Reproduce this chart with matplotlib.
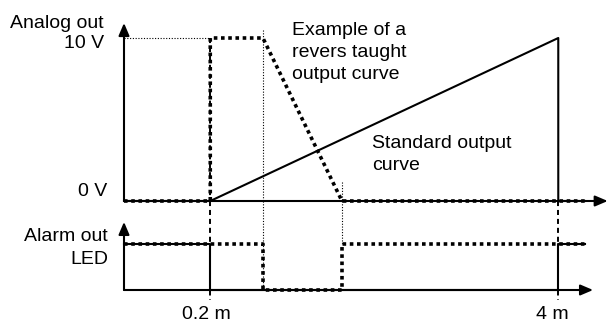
import matplotlib
matplotlib.use("Agg")
import matplotlib.pyplot as plt

plt.rcParams['font.family'] = ['Liberation Sans', 'DejaVu Sans']

# ---- data (schematic x in metres, analog in volts, alarm as state 0/1) ----
x_origin = -0.742
x_end = 4.29
teach_near = 0.2      # 0.2 m
teach_far = 4.0       # 4 m
rev_flat_end = 0.775
rev_zero = 1.638

std_x = [x_origin, teach_near, teach_far, teach_far, x_end]
std_v = [0, 0, 10, 0, 0]

rev_x = [x_origin, teach_near, teach_near, rev_flat_end, rev_zero, x_end]
rev_v = [0, 0, 10, 10, 0, 0]

alarm_std_x = [x_origin, teach_near, teach_near, teach_far, teach_far, x_end]
alarm_std_s = [1, 1, 0, 0, 1, 1]

alarm_rev_x = [x_origin, rev_flat_end, rev_flat_end, rev_zero, rev_zero, x_end]
alarm_rev_s = [1, 1, 0, 0, 1, 1]

x_tick_pos = [teach_near, teach_far]
x_tick_labels = ["0.2 m", "4 m"]

W, H = 611, 322
fig = plt.figure(figsize=(W / 100, H / 100), dpi=100)

def fx(px):
    return px / W

def fy(py):
    return 1 - py / H

# top axes: pixel rows 18..201 ; bottom axes: pixel rows 201..305
ax1 = fig.add_axes([fx(124), fy(201), fx(611 - 124), (201 - 18) / H])
ax2 = fig.add_axes([fx(124), fy(305), fx(611 - 124), (305 - 201) / H])
xl = (x_origin, x_origin + (611 - 124) / 91.58)
ax1.set_xlim(*xl)
ax2.set_xlim(*xl)
ax1.set_ylim(0, 10 + (38 - 18) / 16.3)
ax2.set_ylim(-(305 - 290) / 46, (290 - 201) / 46)
for a in (ax1, ax2):
    a.axis('off')

dotted = (0, (1.0, 1.0))
dashed = (0, (2.6, 2.0))
thin_dot = (0, (1, 1.5))

arrow = dict(arrowstyle='-|>,head_length=0.75,head_width=0.32', color='black', lw=1.5,
             shrinkA=0, shrinkB=0)

# axes arrows
ax1.annotate('', xy=(x_origin, 10.92), xytext=(x_origin, 0), arrowprops=arrow, annotation_clip=False)
ax1.annotate('', xy=(4.54, 0), xytext=(x_origin, 0), arrowprops=arrow, annotation_clip=False)
ax2.annotate('', xy=(x_origin, 1.48), xytext=(x_origin, 0), arrowprops=arrow, annotation_clip=False)
ax2.annotate('', xy=(4.38, 0), xytext=(x_origin, 0), arrowprops=arrow, annotation_clip=False)

# thin guide lines
ytop2 = ax2.get_ylim()[1]
ax1.plot([x_origin, teach_near], [10, 10], color='black', lw=0.8, ls=thin_dot, clip_on=False)
ax1.plot([rev_flat_end, rev_flat_end], [10.5, 0], color='black', lw=0.8, ls=thin_dot, clip_on=False)
ax2.plot([rev_flat_end, rev_flat_end], [ytop2, 0], color='black', lw=0.8, ls=thin_dot, clip_on=False)
ax1.plot([rev_zero, rev_zero], [1.17, 0], color='black', lw=0.8, ls=thin_dot, clip_on=False)
ax2.plot([rev_zero, rev_zero], [ytop2, 1], color='black', lw=0.8, ls=thin_dot, clip_on=False)

# dashed teach markers
ax1.plot([teach_near, teach_near], [10, 0], color='black', lw=1.4, ls=dashed, clip_on=False)
ax2.plot([teach_near, teach_near], [ytop2, -0.22], color='black', lw=1.4, ls=dashed, clip_on=False)
ax2.plot([teach_far, teach_far], [ytop2, -0.22], color='black', lw=1.4, ls=dashed, clip_on=False)

# curves
ax1.plot(std_x, std_v, color='black', lw=1.5, clip_on=False)
ax1.plot(rev_x, rev_v, color='black', lw=2.6, ls=dotted, clip_on=False)
ax2.plot(alarm_std_x, alarm_std_s, color='black', lw=1.5, clip_on=False)
ax2.plot(alarm_rev_x, alarm_rev_s, color='black', lw=2.6, ls=dotted, clip_on=False)

fs = 14
def label(px, py, s, ha):
    fig.text(fx(px), fy(py), s, ha=ha, va='baseline', fontsize=fs)

label(104, 28, "Analog out", 'right')
label(104, 48, "10 V", 'right')
label(107, 196, "0 V", 'right')
label(108, 241, "Alarm out", 'right')
label(108, 264, "LED", 'right')
for lab, px in zip(x_tick_labels, [206, 552]):
    label(px, 319, lab, 'center')
label(292, 35, "Example of a", 'left')
label(292, 57, "revers taught", 'left')
label(292, 79, "output curve", 'left')
label(372, 148, "Standard output", 'left')
label(372, 170, "curve", 'left')

fig.savefig("out.png", dpi=100)
